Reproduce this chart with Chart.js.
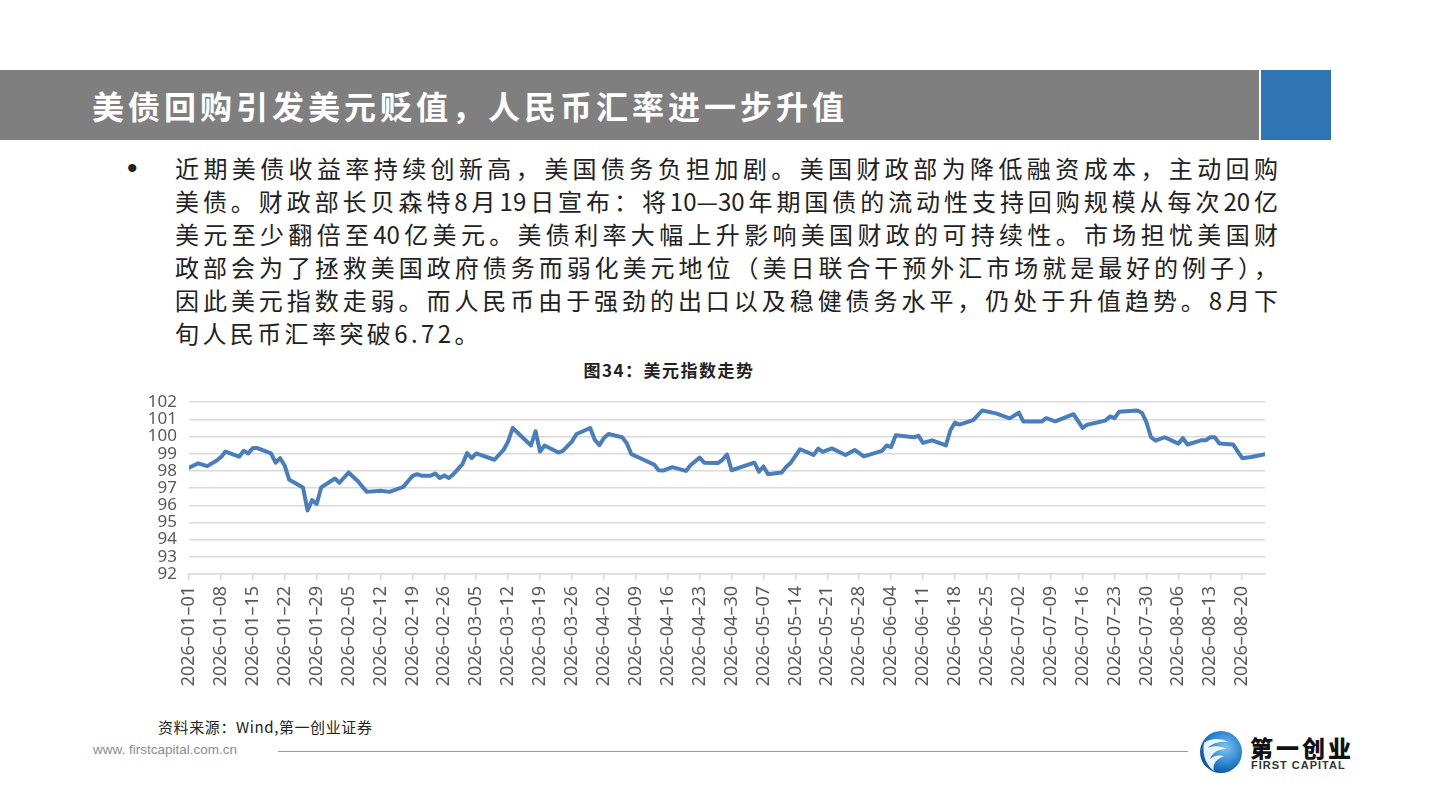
<!DOCTYPE html>
<html>
<head>
<meta charset="utf-8">
<script src="https://cdn.jsdelivr.net/npm/chart.js@4/dist/chart.umd.min.js"></script>
<style>
  body { margin: 0; width: 1440px; height: 810px; overflow: hidden; background: #fff; position: relative;
         font-family: "Noto Sans CJK SC", "Noto Sans", sans-serif; }
  .bar { position: absolute; left: 0; top: 70px; width: 1259px; height: 70px; background: #7f7f7f; }
  .blue { position: absolute; left: 1261px; top: 70px; width: 70px; height: 70px; background: #2e75b6; }
  .title { position: absolute; left: 92px; top: 84px; color: #fff; font-size: 32px; font-weight: 700;
           letter-spacing: 4px; line-height: 42px; white-space: nowrap; }
  .bullet { position: absolute; left: 127px; top: 150px; font-size: 30px; line-height: 36px; color: #222;
            font-family: "Liberation Sans", Arial, sans-serif; }
  .line { position: absolute; left: 175px; width: 1103px; font-size: 24px; line-height: 32px; color: #222;
          text-align: justify; text-align-last: justify; white-space: nowrap; }
  .line.last { text-align-last: left; letter-spacing: 3.4px; }
  .ctitle { position: absolute; left: 0; width: 1338px; top: 357px; text-align: center; font-size: 17px;
            font-weight: 700; color: #222; letter-spacing: 1.5px; }
  #chartWrap { position: absolute; left: 120px; top: 380px; width: 1160px; height: 324px; }
  .source { position: absolute; left: 158px; top: 716px; font-size: 15px; color: #222; letter-spacing: 0.6px; }
  .site { position: absolute; left: 93px; top: 742px; font-size: 13.5px; color: #8c8c8c;
          font-family: "Liberation Sans", Arial, sans-serif; }
  .rule { position: absolute; left: 278px; top: 751px; width: 910px; height: 1px; background: #9a9a9a; }
  .logo { position: absolute; left: 1198px; top: 729px; }
  .lname { position: absolute; left: 1250px; top: 730px; font-size: 23px; font-weight: 900; color: #111; letter-spacing: 3px; }
  .lsub { position: absolute; left: 1251px; top: 759px; font-size: 11px; font-weight: 700; color: #333;
          letter-spacing: 1px; font-family: "Liberation Sans", Arial, sans-serif; }
</style>
</head>
<body>
<div class="bar"></div>
<div class="blue"></div>
<div class="title">美债回购引发美元贬值，人民币汇率进一步升值</div>

<div class="bullet">•</div>
<div class="line" style="top:152px">近期美债收益率持续创新高，美国债务负担加剧。美国财政部为降低融资成本，主动回购</div>
<div class="line" style="top:185px">美债。财政部长贝森特8月19日宣布：将10—30年期国债的流动性支持回购规模从每次20亿</div>
<div class="line" style="top:218px">美元至少翻倍至40亿美元。美债利率大幅上升影响美国财政的可持续性。市场担忧美国财</div>
<div class="line" style="top:251px">政部会为了拯救美国政府债务而弱化美元地位（美日联合干预外汇市场就是最好的例子），</div>
<div class="line" style="top:284px">因此美元指数走弱。而人民币由于强劲的出口以及稳健债务水平，仍处于升值趋势。8月下</div>
<div class="line last" style="top:317px">旬人民币汇率突破6.72。</div>

<div class="ctitle">图34：美元指数走势</div>
<div id="chartWrap"><canvas id="usdChart" width="1160" height="324"></canvas></div>

<div class="source">资料来源：Wind,第一创业证券</div>
<div class="site">www. firstcapital.com.cn</div>
<div class="rule"></div>
<svg class="logo" width="46" height="46" viewBox="0 0 46 46">
  <defs>
    <radialGradient id="g" cx="60%" cy="40%" r="65%">
      <stop offset="0" stop-color="#7fc3ef"/>
      <stop offset="0.6" stop-color="#2a86d0"/>
      <stop offset="1" stop-color="#0d4f9c"/>
    </radialGradient>
  </defs>
  <circle cx="23" cy="23" r="21" fill="url(#g)"/>
  <path d="M6 14 C14 8, 24 10, 30 13 C22 12, 14 14, 10 19 C16 16, 24 17, 28 20 C20 20, 14 24, 12 30 C16 26, 22 26, 26 27 C18 30, 14 36, 16 42 C8 36, 4 26, 6 14 Z" fill="#fff" opacity="0.9"/>
</svg>
<div class="lname">第一创业</div>
<div class="lsub">FIRST CAPITAL</div>

<script>
// 美元指数
const dates = [
  '2026-01-01','2026-01-03','2026-01-05','2026-01-07','2026-01-08','2026-01-09','2026-01-12','2026-01-13',
  '2026-01-14','2026-01-15','2026-01-16','2026-01-19','2026-01-20','2026-01-21','2026-01-22','2026-01-23',
  '2026-01-26','2026-01-27','2026-01-28','2026-01-29','2026-01-30','2026-02-02','2026-02-03','2026-02-05',
  '2026-02-07','2026-02-09','2026-02-12','2026-02-14','2026-02-17','2026-02-19','2026-02-20','2026-02-21',
  '2026-02-23','2026-02-24','2026-02-25','2026-02-26','2026-02-27','2026-02-28','2026-03-02','2026-03-03',
  '2026-03-04','2026-03-05','2026-03-09','2026-03-11','2026-03-12','2026-03-13','2026-03-17','2026-03-18',
  '2026-03-19','2026-03-20','2026-03-23','2026-03-24','2026-03-26','2026-03-27','2026-03-30','2026-03-31',
  '2026-04-01','2026-04-02','2026-04-03','2026-04-06','2026-04-07','2026-04-08','2026-04-10','2026-04-13',
  '2026-04-14','2026-04-15','2026-04-17','2026-04-20','2026-04-21','2026-04-23','2026-04-24','2026-04-27',
  '2026-04-28','2026-04-29','2026-04-30','2026-05-05','2026-05-06','2026-05-07','2026-05-08','2026-05-11',
  '2026-05-12','2026-05-13','2026-05-15','2026-05-18','2026-05-19','2026-05-20','2026-05-22','2026-05-25',
  '2026-05-27','2026-05-29','2026-06-02','2026-06-03','2026-06-04','2026-06-05','2026-06-09','2026-06-10',
  '2026-06-11','2026-06-13','2026-06-16','2026-06-17','2026-06-18','2026-06-19','2026-06-22','2026-06-24',
  '2026-06-27','2026-06-30','2026-07-02','2026-07-03','2026-07-07','2026-07-08','2026-07-10','2026-07-14',
  '2026-07-16','2026-07-17','2026-07-21','2026-07-22','2026-07-23','2026-07-24','2026-07-28','2026-07-29',
  '2026-07-30','2026-07-31','2026-08-01','2026-08-03','2026-08-06','2026-08-07','2026-08-08','2026-08-11',
  '2026-08-12','2026-08-13','2026-08-14','2026-08-15','2026-08-18','2026-08-20','2026-08-22','2026-08-25'
];
const usdIndex = [
  98.19, 98.44, 98.28, 98.59, 98.80, 99.13, 98.83, 99.17,
  99.02, 99.33, 99.33, 99.02, 98.48, 98.74, 98.30, 97.48,
  97.04, 95.70, 96.30, 96.07, 97.04, 97.56, 97.31, 97.91,
  97.41, 96.78, 96.85, 96.78, 97.07, 97.70, 97.81, 97.72,
  97.72, 97.85, 97.59, 97.74, 97.59, 97.81, 98.40, 99.04,
  98.74, 99.02, 98.65, 99.22, 99.72, 100.50, 99.48, 100.31,
  99.13, 99.48, 99.07, 99.17, 99.72, 100.15, 100.50, 99.81,
  99.50, 99.91, 100.15, 99.96, 99.63, 98.98, 98.74, 98.37,
  98.04, 98.02, 98.22, 98.00, 98.33, 98.78, 98.48, 98.46,
  98.65, 98.96, 98.04, 98.48, 97.96, 98.26, 97.81, 97.91,
  98.24, 98.48, 99.26, 98.93, 99.30, 99.11, 99.31, 98.93,
  99.22, 98.85, 99.17, 99.48, 99.39, 100.07, 99.96, 100.04,
  99.63, 99.78, 99.48, 100.37, 100.81, 100.70, 100.96, 101.52,
  101.35, 101.06, 101.39, 100.87, 100.87, 101.07, 100.89, 101.30,
  100.50, 100.69, 100.93, 101.17, 101.07, 101.44, 101.52, 101.39,
  100.83, 99.96, 99.76, 99.96, 99.59, 99.91, 99.54, 99.78,
  99.78, 99.96, 99.96, 99.59, 99.54, 98.74, 98.81, 98.98
];
const axisStart = '2026-01-01';
const axisEnd = '2026-08-25';
const yMin = 92, yMax = 102;

const DAY = 86400000;
const dayOf = d => (Date.parse(d) - Date.parse(axisStart)) / DAY;
const points = dates.map((d, i) => ({ x: dayOf(d), y: usdIndex[i] }));

const ctx = document.getElementById('usdChart').getContext('2d');
new Chart(ctx, {
  type: 'line',
  data: {
    datasets: [{
      label: '美元指数',
      data: points,
      borderColor: '#4a7ebb',
      borderWidth: 4,
      pointRadius: 0,
      tension: 0,
      borderJoinStyle: 'round',
      borderCapStyle: 'round'
    }]
  },
  options: {
    responsive: false,
    animation: false,
    layout: { padding: { top: 14, right: 15, left: 0, bottom: 0 } },
    plugins: { legend: { display: false }, tooltip: { enabled: false } },
    scales: {
      x: {
        type: 'linear',
        min: 0,
        max: dayOf(axisEnd),
        afterFit: s => { s.height = 130; },
        border: { color: '#d9d9d9', width: 1.5 },
        grid: { drawOnChartArea: false, drawTicks: true, tickLength: 6, color: '#d9d9d9', lineWidth: 1.5 },
        ticks: {
          stepSize: 7,
          includeBounds: false,
          autoSkip: false,
          minRotation: 90,
          maxRotation: 90,
          padding: 6,
          color: '#595959',
          font: { family: 'Noto Sans', size: 18 },
          callback: v => new Date(Date.parse(axisStart) + v * DAY).toISOString().slice(0, 10).replace(/-/g, '–')
        }
      },
      y: {
        min: yMin,
        max: yMax,
        afterFit: s => { s.width = 69; },
        border: { display: false },
        grid: { color: '#d9d9d9', lineWidth: 1.5, drawTicks: false },
        ticks: {
          stepSize: 1,
          autoSkip: false,
          padding: 12,
          color: '#595959',
          font: { family: 'Noto Sans', size: 17 }
        }
      }
    }
  }
});
</script>
</body>
</html>
